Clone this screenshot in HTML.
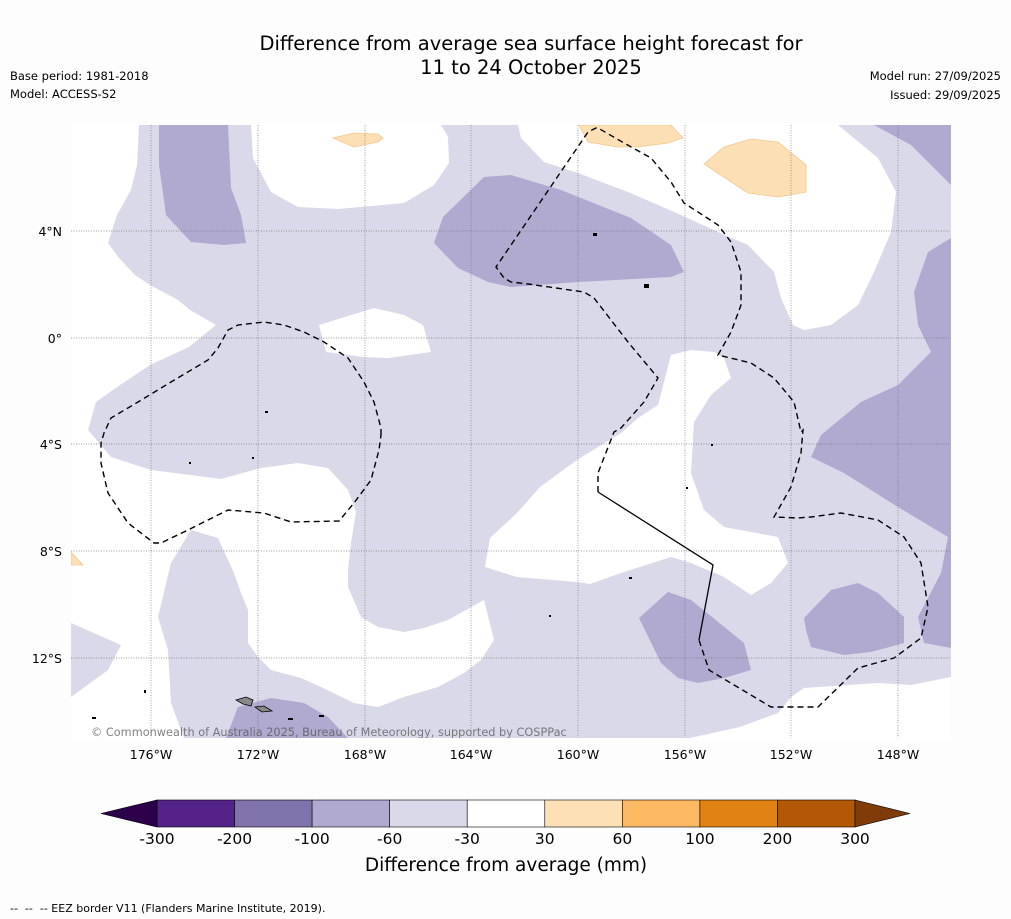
<!DOCTYPE html>
<html><head><meta charset="utf-8"><style>
body{margin:0;background:#fdfdfd;font-family:"Liberation Sans","DejaVu Sans",sans-serif;}
svg{display:block}
</style></head><body>
<svg width="1011" height="919" viewBox="0 0 1011 919" xmlns="http://www.w3.org/2000/svg" font-family="DejaVu Sans, Liberation Sans, sans-serif">
<rect width="1011" height="919" fill="#fdfdfd"/>
<text x="531" y="50" font-size="19.5" text-anchor="middle" fill="#000">Difference from average sea surface height forecast for</text>
<text x="531" y="74" font-size="19.5" text-anchor="middle" fill="#000">11 to 24 October 2025</text>
<text x="10" y="80" font-size="11.5">Base period: 1981-2018</text>
<text x="10" y="98" font-size="11.5">Model: ACCESS-S2</text>
<text x="1001" y="80" font-size="11.5" text-anchor="end">Model run: 27/09/2025</text>
<text x="1001" y="99" font-size="11.5" text-anchor="end">Issued: 29/09/2025</text>

<g>
<clipPath id="mc"><rect x="71" y="125" width="880" height="613"/></clipPath>
<g clip-path="url(#mc)">
<rect x="71" y="125" width="880" height="613" fill="#d9d9ea"/>
<g fill="#ffffff">
<polygon points="71,125 139,125 137,165 131,190 117,215 108,243 119,258 135,275 150,285 178,300 190,310 216,325 189,347 150,365 120,385 96,402 88,430 111,457 151,470 221,479 261,468 298,463 328,468 348,490 356,512 351,543 348,570 348,587 361,617 378,627 404,632 424,628 448,620 484,600 494,640 481,660 464,673 438,687 404,697 378,707 354,703 321,687 301,678 271,670 258,657 248,643 248,610 241,593 234,573 218,538 191,530 171,563 158,617 168,650 171,703 184,738 71,738 71,697 108,670 121,645 71,623"/>
<polygon points="251,125 253,158 271,192 298,207 338,209 404,203 434,185 449,163 448,137 441,125"/>
<polygon points="319,325 374,308 404,315 423,325 431,352 388,358 364,357 326,352"/>
<polygon points="518,125 521,138 544,162 578,173 628,192 681,215 718,232 748,245 774,272 781,298 793,325 804,330 831,325 858,305 874,272 891,232 896,192 878,158 838,125"/>
<polygon points="671,355 691,350 714,352 724,358 731,378 711,395 694,422 691,473 704,510 724,527 778,537 788,563 771,583 751,595 724,577 691,563 671,557 621,573 590,584 577,582 517,577 485,567 490,538 517,513 540,487 577,460 621,433 638,418 658,405"/>
<polygon points="951,677 911,685 878,683 804,688 791,697 778,713 740,727 690,738 951,738"/>
</g>
<g fill="#b0a9d0">
<polygon points="159,125 228,125 231,188 241,215 246,243 224,245 191,242 166,215 159,165"/>
<polygon points="484,177 511,175 561,190 631,218 671,245 684,272 671,277 578,282 511,287 488,282 458,268 434,243 443,217"/>
<polygon points="874,125 951,125 951,185 911,145"/>
<polygon points="951,238 928,252 914,292 918,325 931,352 898,385 861,402 821,435 811,457 844,473 898,507 948,537 941,573 918,617 924,643 951,648"/>
<polygon points="639,618 668,592 691,600 744,643 751,670 724,678 698,683 678,678 661,663"/>
<polygon points="804,618 831,590 858,583 878,593 904,617 904,643 871,652 844,655 811,647 806,630"/>
<polygon points="226,738 238,707 271,698 304,703 328,717 348,738"/>
</g>
<g fill="#fddfb5" stroke="#f2c78e" stroke-width="0.8">
<polygon points="333,138 354,133 378,134 383,138 378,142 354,147"/>
<polygon points="579,125 671,125 683,138 668,143 638,147 618,147 588,142"/>
<polygon points="704,164 724,147 751,139 778,142 806,165 806,192 778,197 748,193"/>
<polygon points="71,552 83,565 71,565"/>
</g>
<g stroke="#777" stroke-width="0.7" stroke-dasharray="1,1.5">
<line x1="151" y1="125" x2="151" y2="738"/><line x1="258" y1="125" x2="258" y2="738"/><line x1="365" y1="125" x2="365" y2="738"/><line x1="471" y1="125" x2="471" y2="738"/><line x1="578" y1="125" x2="578" y2="738"/><line x1="685" y1="125" x2="685" y2="738"/><line x1="791" y1="125" x2="791" y2="738"/><line x1="898" y1="125" x2="898" y2="738"/>
<line x1="71" y1="231" x2="951" y2="231"/><line x1="71" y1="338" x2="951" y2="338"/><line x1="71" y1="444" x2="951" y2="444"/><line x1="71" y1="551" x2="951" y2="551"/><line x1="71" y1="658" x2="951" y2="658"/>
</g>
<g fill="none" stroke="#000" stroke-width="1.4" stroke-dasharray="6,4">
<polyline points="381,435 381,428 374,402 364,382 348,358 324,342 304,332 284,325 264,322 238,325 228,330 218,348 208,360 171,382 138,402 111,418 104,433 101,443 101,463 108,493 128,523 154,543 161,543 188,530 228,510 264,513 291,522 339,521 354,503 371,480 379,450 381,435"/>
<polyline points="598,492 598,473 614,432 621,428 644,402 658,378 628,342 594,298 584,292 528,284 511,282 504,278 496,267 511,245 588,132 596,128 598,128 624,143 651,158 671,182 684,203 718,225 731,242 741,272 741,305 731,332 718,355 751,363 774,378 794,402 801,432 803,430 801,453 791,487 774,517 798,518 811,517 841,513 878,520 904,537 921,563 928,607 921,638 894,658 858,668 818,707 771,707 709,670 699,640"/>
</g>
<polyline points="598,492 713,565 699,640" fill="none" stroke="#000" stroke-width="1.3"/>
<g fill="#888" stroke="#000" stroke-width="0.8">
<polygon points="236,700 246,697 253,700 251,706 243,704"/>
<polygon points="255,707 264,706 272,711 262,712"/>
</g>
<g fill="#000">
<rect x="265" y="411" width="3" height="2"/><rect x="252" y="457" width="2" height="2"/><rect x="189" y="462" width="2" height="2"/><rect x="144" y="690" width="2" height="3"/><rect x="92" y="717" width="4" height="2"/><rect x="288" y="718" width="5" height="2"/><rect x="319" y="715" width="5" height="2"/><rect x="593" y="233" width="4" height="3"/><rect x="644" y="284" width="5" height="4"/><rect x="549" y="615" width="2" height="2"/><rect x="711" y="444" width="2" height="2"/><rect x="686" y="487" width="2" height="2"/><rect x="629" y="577" width="3" height="2"/>
</g>
<text x="91" y="736" font-size="11.3" fill="#555" fill-opacity="0.75">© Commonwealth of Australia 2025, Bureau of Meteorology, supported by COSPPac</text>
</g>
</g>

<g font-size="12.5" fill="#000">
<text x="62" y="236" text-anchor="end">4°N</text><text x="62" y="343" text-anchor="end">0°</text><text x="62" y="449" text-anchor="end">4°S</text><text x="62" y="556" text-anchor="end">8°S</text><text x="62" y="663" text-anchor="end">12°S</text>
</g>
<g font-size="12.5" fill="#000" text-anchor="middle">
<text x="151" y="759">176°W</text><text x="258" y="759">172°W</text><text x="365" y="759">168°W</text><text x="471" y="759">164°W</text><text x="578" y="759">160°W</text><text x="685" y="759">156°W</text><text x="791" y="759">152°W</text><text x="898" y="759">148°W</text>
</g>

<g id="cbar"></g>
<text x="506" y="871" font-size="18.5" text-anchor="middle">Difference from average (mm)</text>
<text x="10" y="912" font-size="11" xml:space="preserve">--  --  -- EEZ border V11 (Flanders Marine Institute, 2019).</text>
</svg>
<script>
const levels = [-300,-200,-100,-60,-30,30,60,100,200,300];
const binColors = ["#542387","#8073ac","#b0a9d0","#d9d9ea","#ffffff","#fde0b6","#fdb863","#e08214","#b35806"];
const underColor = "#2d004b";
const overColor = "#7f3b08";
const ns = "http://www.w3.org/2000/svg";
const g = document.getElementById('cbar');
const x0 = 157, x1 = 855, y0 = 800, y1 = 827;
const bw = (x1 - x0) / binColors.length;
function xOf(i){ return x0 + i * bw; }
binColors.forEach((c, i) => {
  const r = document.createElementNS(ns, 'rect');
  r.setAttribute('x', xOf(i)); r.setAttribute('y', y0);
  r.setAttribute('width', bw); r.setAttribute('height', y1 - y0);
  r.setAttribute('fill', c); r.setAttribute('stroke', '#000'); r.setAttribute('stroke-width', '0.6');
  
  
  g.appendChild(r);
});
const lt = document.createElementNS(ns, 'polygon');
lt.setAttribute('points', `${x0},${y0} ${x0},${y1} 101,${(y0+y1)/2}`);
lt.setAttribute('fill', underColor); lt.setAttribute('stroke', '#000'); lt.setAttribute('stroke-width', '0.6');


g.appendChild(lt);
const rt = document.createElementNS(ns, 'polygon');
rt.setAttribute('points', `${x1},${y0} ${x1},${y1} 910,${(y0+y1)/2}`);
rt.setAttribute('fill', overColor); rt.setAttribute('stroke', '#000'); rt.setAttribute('stroke-width', '0.6');


g.appendChild(rt);
levels.forEach((v, i) => {
  const t = document.createElementNS(ns, 'text');
  t.setAttribute('x', xOf(i)); t.setAttribute('y', 844);
  t.setAttribute('font-size', '15.5'); t.setAttribute('text-anchor', 'middle');
  t.textContent = v;
  
  
  g.appendChild(t);
});
</script>
</body></html>
